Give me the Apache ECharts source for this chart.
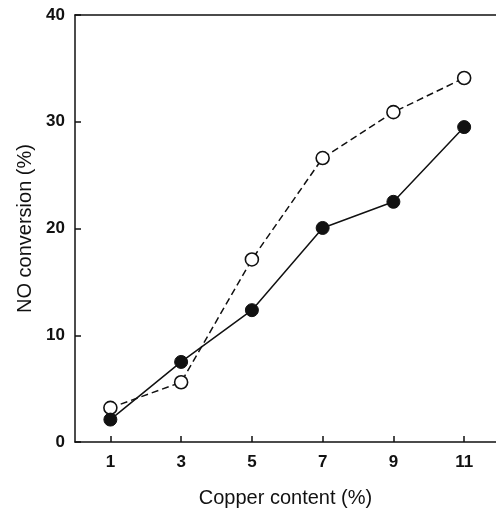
<!DOCTYPE html>
<html>
<head>
<meta charset="utf-8">
<script src="https://cdn.jsdelivr.net/npm/echarts@6/dist/echarts.min.js"></script>
<style>
  html, body { margin: 0; padding: 0; background: #fff; }
  #main { width: 496px; height: 510px; }
</style>
</head>
<body>
<div id="main"></div>
<script>
// copper content (%) on x
var copper = [1, 3, 5, 7, 9, 11]
// filled circles, solid line
var filled = [2.1, 7.5, 12.35, 20.05, 22.5, 29.5]
// open circles, dashed line
var open = [3.2, 5.6, 17.1, 26.6, 30.9, 34.1]
var xTicks = [1, 3, 5, 7, 9, 11]

var chart = echarts.init(document.getElementById('main'))

function pairs(ys) {
    return copper.map(function (x, i) { return [x, ys[i]] })
}

var labelFont = { fontFamily: 'Liberation Sans, Arial', fontSize: 17, fontWeight: 'bold', color: '#111' }
var nameFont = { fontFamily: 'Liberation Sans, Arial', fontSize: 20, color: '#111' }

option = {
    backgroundColor: '#fff',
    animation: false,
    // keep the plot box fixed, names may sit near the edge
    grid: { left: 75, top: 15, right: 0, bottom: 68, outerBoundsMode: 'none' },
    xAxis: [{
        type: 'value',
        min: 0,
        max: 11.9,
        name: 'Copper content (%)',
        nameLocation: 'middle',
        nameGap: 46,
        nameTextStyle: nameFont,
        axisLine: { lineStyle: { color: '#111', width: 1.5 } },
        axisTick: { inside: true, length: 6, lineStyle: { color: '#111', width: 1.5 }, customValues: xTicks },
        axisLabel: Object.assign({ margin: 12, customValues: xTicks }, labelFont),
        splitLine: { show: false }
    }, {
        type: 'value',
        position: 'top',
        min: 0,
        max: 11.9,
        axisLine: { show: true, lineStyle: { color: '#111', width: 1.5 } },
        axisTick: { show: false },
        axisLabel: { show: false },
        splitLine: { show: false }
    }],
    yAxis: {
        type: 'value',
        min: 0,
        max: 40,
        interval: 10,
        name: 'NO conversion (%)',
        nameLocation: 'middle',
        nameGap: 40,
        nameTextStyle: nameFont,
        axisLine: { show: true, lineStyle: { color: '#111', width: 1.5 } },
        axisTick: { show: true, inside: true, length: 6, lineStyle: { color: '#111', width: 1.5 } },
        axisLabel: Object.assign({ margin: 10 }, labelFont),
        splitLine: { show: false }
    },
    series: [
        {
            type: 'line',
            data: pairs(open),
            symbol: 'circle',
            symbolSize: 13,
            lineStyle: { color: '#111', width: 1.5, type: [7, 4] },
            itemStyle: { color: '#fff', borderColor: '#111', borderWidth: 1.6 },
            z: 3
        },
        {
            type: 'line',
            data: pairs(filled),
            symbol: 'circle',
            symbolSize: 13,
            lineStyle: { color: '#111', width: 1.5 },
            itemStyle: { color: '#111', borderColor: '#111', borderWidth: 1 },
            z: 4
        }
    ]
}

chart.setOption(option)
</script>
</body>
</html>
